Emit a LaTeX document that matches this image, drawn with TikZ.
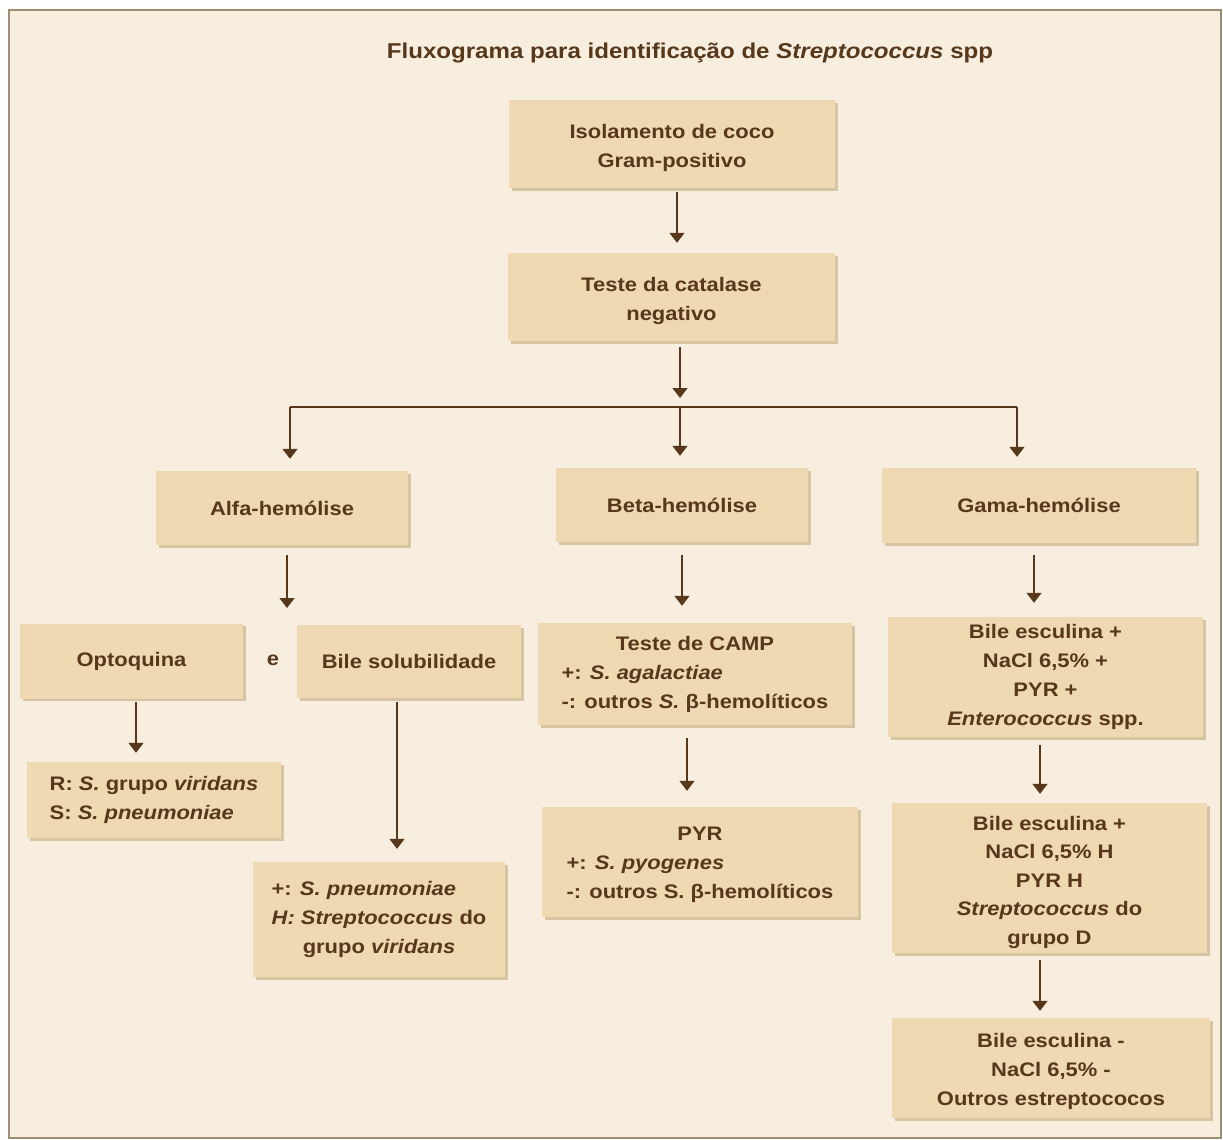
\documentclass[tikz,border=0pt]{standalone}
\usepackage{fontspec}
\setmainfont{Liberation Sans}[FakeStretch=1.12]
\usetikzlibrary{arrows.meta,shadows}
\definecolor{bgc}{HTML}{F8EEE0}
\definecolor{boxc}{HTML}{EED9B3}
\definecolor{shadc}{HTML}{D6C4A2}
\definecolor{txtc}{HTML}{57381A}
\definecolor{framec}{HTML}{9C8E6E}
\definecolor{arrc}{HTML}{57381A}
\newcommand{\dnstrut}[1]{\rule{0pt}{#1}}
\begin{document}
\begin{tikzpicture}[x=1pt,y=-1pt,
  bx/.style={fill=boxc, inner sep=0pt, align=center, text=txtc,
    font=\fontsize{19.6}{29}\selectfont\bfseries,
    general shadow={shadow xshift=2.5pt, shadow yshift=-2.5pt, fill=shadc}},
  arr/.style={draw=arrc, line width=1.5pt, -{Triangle[width=15pt,length=10pt]}},
  ln/.style={draw=arrc, line width=1.5pt},
  lbl/.style={text=txtc, inner sep=0pt, font=\fontsize{19.6}{29}\selectfont\bfseries}]
\useasboundingbox (0,0) rectangle (1223,1140);
\fill[white] (0,0) rectangle (1223,1140);
\draw[framec, line width=1.8pt, fill=bgc] (9,10) rectangle (1221,1138);

\node[lbl, font=\fontsize{21.5}{26}\selectfont\bfseries] (title) at (690,53)
  {Fluxograma para identificação de \textit{Streptococcus} spp};

\node[bx, minimum width=326, minimum height=88] (iso) at (672,144)
  {\dnstrut{22.5pt}Isolamento de coco\\Gram-positivo};
\node[bx, minimum width=327, minimum height=88] (cat) at (671.5,297)
  {\dnstrut{22.5pt}Teste da catalase\\negativo};

\node[bx, minimum width=252, minimum height=74] (alfa) at (282,508) {Alfa-hemólise};
\node[bx, minimum width=252, minimum height=74] (beta) at (682,505) {Beta-hemólise};
\node[bx, minimum width=314, minimum height=75] (gama) at (1039,505.5) {Gama-hemólise};

\node[bx, minimum width=223, minimum height=75] (opto) at (131.5,661) {Optoquina};
\node[lbl] (e) at (273,660) {e};
\node[bx, minimum width=224, minimum height=73] (bile) at (409,661.5) {Bile solubilidade};

\node[bx, minimum width=254, minimum height=76, align=left] (rs) at (154,800)
  {R: \textit{S.} grupo \textit{viridans}\\S: \textit{S. pneumoniae}};
\node[bx, minimum width=252, minimum height=115] (ph) at (379,919.5)
  {\rlap{+: \textit{S. pneumoniae}}\phantom{\textit{H: Streptococcus} do}\\
   \textit{H: Streptococcus} do\\grupo \textit{viridans}};

\node[bx, minimum width=314, minimum height=102] (camp) at (695,674)
  {Teste de CAMP\\
   \rlap{+: \textit{S. agalactiae}}\phantom{-: outros \textit{S.} β-hemolíticos}\\
   -: outros \textit{S.} β-hemolíticos};
\node[bx, minimum width=316, minimum height=110] (pyr) at (700,862)
  {\dnstrut{18.5pt}PYR\\
   \rlap{+: \textit{S. pyogenes}}\phantom{-: outros S. β-hemolíticos}\\
   -: outros S. β-hemolíticos};

\node[bx, minimum width=315, minimum height=120] (g1) at (1045.5,677)
  {Bile esculina +\\NaCl 6,5\% +\\PYR +\\\textit{Enterococcus} spp.};
\node[bx, minimum width=315, minimum height=150, font=\fontsize{19.6}{28.5}\selectfont\bfseries] (g2) at (1049.5,878)
  {\dnstrut{22.5pt}Bile esculina +\\NaCl 6,5\% H\\PYR H\\\textit{Streptococcus} do\\grupo D};
\node[bx, minimum width=318, minimum height=100] (g3) at (1051,1068)
  {\dnstrut{21.5pt}Bile esculina -\\NaCl 6,5\% -\\Outros estreptococos};

% connectors
\draw[arr, shorten <=4pt, shorten >=10pt] ([xshift=5pt]iso.south) -- ([xshift=5pt]iso.south |- cat.north);
\coordinate (bar) at (680,407);
\coordinate (barL) at (290,407);
\coordinate (barR) at (1017,407);
\draw[arr, shorten <=6pt, shorten >=9pt] (cat.south -| bar) -- (bar);
\draw[ln] (barL) -- (barR);
\draw[arr, shorten >=12pt] (barL) -- (barL |- alfa.north);
\draw[arr, shorten >=12pt] (bar) -- (bar |- beta.north);
\draw[arr, shorten >=11pt] (barR) -- (barR |- gama.north);

\coordinate (ae) at (287,608);
\draw[arr, shorten <=10pt] (alfa.south -| ae) -- (ae);
\draw[arr, shorten <=13pt, shorten >=17pt] (beta.south) -- (beta.south |- camp.north);
\draw[arr, shorten <=12pt, shorten >=14pt] ([xshift=-5pt]gama.south) -- ([xshift=-5pt]gama.south |- g1.north);

\draw[arr, shorten <=3pt, shorten >=9pt] ([xshift=4.5pt]opto.south) -- ([xshift=4.5pt]opto.south |- rs.north);
\draw[arr, shorten <=4pt, shorten >=13pt] ([xshift=-12pt]bile.south) -- ([xshift=-12pt]bile.south |- ph.north);
\draw[arr, shorten <=13pt, shorten >=16pt] ([xshift=-8pt]camp.south) -- ([xshift=-8pt]camp.south |- pyr.north);
\draw[arr, shorten <=8pt, shorten >=9pt] ([xshift=-5.5pt]g1.south) -- ([xshift=-5.5pt]g1.south |- g2.north);
\draw[arr, shorten <=7pt, shorten >=7pt] ([xshift=-9.5pt]g2.south) -- ([xshift=-9.5pt]g2.south |- g3.north);
\end{tikzpicture}
\end{document}
